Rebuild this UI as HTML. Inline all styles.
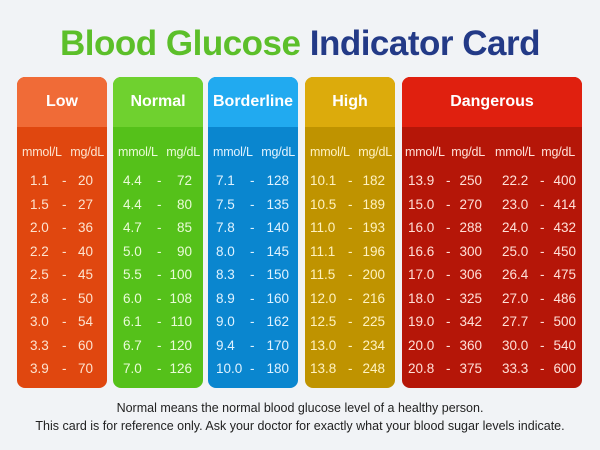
<!DOCTYPE html>
<html><head><meta charset="utf-8"><style>
body{margin:0;width:600px;height:450px;background:#f1f3f6;font-family:"Liberation Sans",sans-serif;position:relative;overflow:hidden}
.t{position:absolute;white-space:nowrap}
.col{position:absolute;top:77px;height:311px;border-radius:8px;overflow:hidden}
.hd{height:50px;line-height:50px;text-align:center;color:#fff;font-weight:bold;font-size:16px}
.bd{position:absolute;top:50px;left:0;right:0;bottom:0}
.u{position:absolute;top:18px;font-size:12.5px;letter-spacing:-0.2px}
.v{position:absolute;font-size:13.5px}
</style></head><body>
<div class="t" style="left:0;width:600px;text-align:center;top:24px;font-size:35px;font-weight:bold;letter-spacing:-0.5px"><span style="color:#5cbf2a">Blood Glucose</span> <span style="color:#233a87">Indicator Card</span></div>
<div id="cols"></div>
<div class="t" style="left:0;width:600px;text-align:center;top:401px;font-size:12.5px;color:#222">Normal means the normal blood glucose level of a healthy person.</div>
<div class="t" style="left:0;width:600px;text-align:center;top:419px;font-size:12.5px;color:#222">This card is for reference only. Ask your doctor for exactly what your blood sugar levels indicate.</div>
<script>
const categories=["Low","Normal","Borderline","High","Dangerous"];
const lowVals=[["1.1","20"],["1.5","27"],["2.0","36"],["2.2","40"],["2.5","45"],["2.8","50"],["3.0","54"],["3.3","60"],["3.9","70"]];
const normalVals=[["4.4","72"],["4.4","80"],["4.7","85"],["5.0","90"],["5.5","100"],["6.0","108"],["6.1","110"],["6.7","120"],["7.0","126"]];
const borderVals=[["7.1","128"],["7.5","135"],["7.8","140"],["8.0","145"],["8.3","150"],["8.9","160"],["9.0","162"],["9.4","170"],["10.0","180"]];
const highVals=[["10.1","182"],["10.5","189"],["11.0","193"],["11.1","196"],["11.5","200"],["12.0","216"],["12.5","225"],["13.0","234"],["13.8","248"]];
const dangerVals1=[["13.9","250"],["15.0","270"],["16.0","288"],["16.6","300"],["17.0","306"],["18.0","325"],["19.0","342"],["20.0","360"],["20.8","375"]];
const dangerVals2=[["22.2","400"],["23.0","414"],["24.0","432"],["25.0","450"],["26.4","475"],["27.0","486"],["27.7","500"],["30.0","540"],["33.3","600"]];
const cfg=[
 {x:17,w:90,h:"#f06b37",b:"#e0470f",tc:"#fde3cf",sets:[lowVals],pos:[[13,45,14]]},
 {x:113,w:90,h:"#6fd12f",b:"#55c11a",tc:"#eafbd8",sets:[normalVals],pos:[[10,44,11]]},
 {x:208,w:90,h:"#21aaf0",b:"#0a86cf",tc:"#e0f3ff",sets:[borderVals],pos:[[8,42,9]]},
 {x:305,w:90,h:"#dcab0c",b:"#bf9300",tc:"#fff2c0",sets:[highVals],pos:[[5,43,10]]},
 {x:402,w:180,h:"#e0200f",b:"#b51608",tc:"#ffe0d8",sets:[dangerVals1,dangerVals2],pos:[[6,44,10],[10,48,6]]}];
const root=document.getElementById('cols');
cfg.forEach((c,i)=>{
 const col=document.createElement('div');col.className='col';
 
 
 col.style.left=c.x+'px';col.style.width=c.w+'px';col.style.background=c.b;
 const hd=document.createElement('div');hd.className='hd';hd.style.background=c.h;hd.textContent=categories[i];
 
 
 col.appendChild(hd);
 const bd=document.createElement('div');bd.className='bd';col.appendChild(bd);
 const dz=c.sets.length>1;
 c.sets.forEach((vals,s)=>{
  const ox=s*90;
  const u1=document.createElement('div');u1.className='u';u1.style.left=(ox+(dz?3:5))+'px';u1.style.color=c.tc;u1.textContent='mmol/L';
  
  
  const u2=document.createElement('div');u2.className='u';u2.style.left=(ox+40)+'px';u2.style.width=(dz?43:47)+'px';u2.style.textAlign='right';u2.style.color=c.tc;u2.textContent='mg/dL';
  
  
  bd.appendChild(u1);bd.appendChild(u2);
  const [L,D,R]=c.pos[s];
  vals.forEach((r,j)=>{
   const y=46+j*23.5;
   const row=document.createElement('div');row.className='v';row.style.top=y+'px';row.style.left=ox+'px';row.style.width='90px';row.style.height='16px';row.style.color=c.tc;
   
   
   row.innerHTML='<span style="position:absolute;left:'+L+'px">'+r[0]+'</span><span style="position:absolute;left:'+D+'px">-</span><span style="position:absolute;right:'+R+'px">'+r[1]+'</span>';
   bd.appendChild(row);
  });
 });
 root.appendChild(col);
});
</script>
</body></html>
